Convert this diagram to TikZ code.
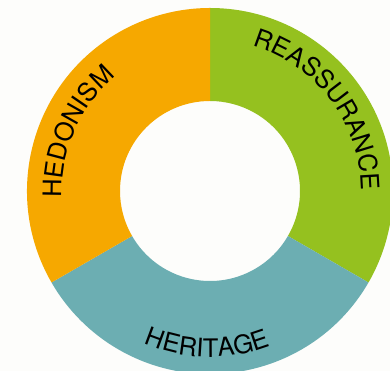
\documentclass[tikz,border=0pt]{standalone}
\usepackage{fontspec}
\setmainfont{TeX Gyre Heros}
\usetikzlibrary{decorations.text}
\definecolor{segorange}{HTML}{F6A800}
\definecolor{seggreen}{HTML}{95C11F}
\definecolor{segteal}{HTML}{6CAEB2}
\definecolor{bgwhite}{HTML}{FDFDFB}
\tikzset{
  ringlabel/.style={decorate, decoration={text along path, text align=center, text={#1}}}
}
\newcommand{\ringfont}{\fontsize{25.5}{30}\selectfont}
\begin{document}
\begin{tikzpicture}[x=1pt,y=1pt]
\useasboundingbox (0,0) rectangle (390,371);
\fill[bgwhite] (0,0) rectangle (390,371);
\begin{scope}[shift={(210,180)}]
  \fill[seggreen] (90:183) arc[start angle=90, end angle=-30, radius=183] -- (-30:90) arc[start angle=-30, end angle=90, radius=90] -- cycle;
  \fill[segteal] (-30:183) arc[start angle=-30, end angle=-150, radius=183] -- (210:90) arc[start angle=-150, end angle=-30, radius=90] -- cycle;
  \fill[segorange] (210:183) arc[start angle=210, end angle=90, radius=183] -- (90:90) arc[start angle=90, end angle=210, radius=90] -- cycle;
  \path[ringlabel={|\ringfont|HEDONISM}] (201:148) arc[start angle=201, end angle=111, radius=148];
  \path[ringlabel={|\ringfont|REASSURANCE}] (87:151) arc[start angle=87, end angle=-13, radius=151];
  \path[ringlabel={|\ringfont|HERITAGE}] (229:166) arc[start angle=229, end angle=309, radius=166];
\end{scope}
\end{tikzpicture}
\end{document}
